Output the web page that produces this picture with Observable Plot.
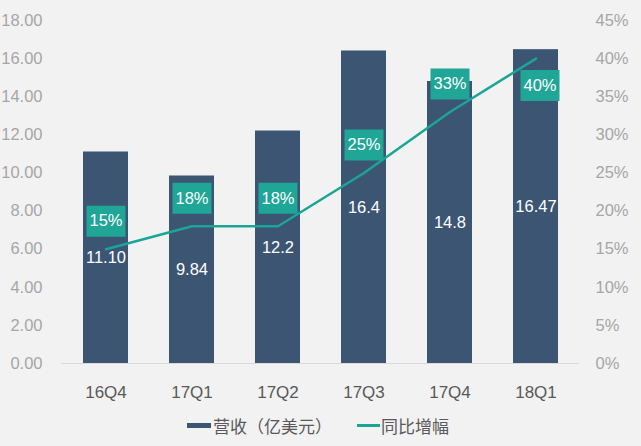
<!DOCTYPE html>
<html>
<head>
<meta charset="utf-8">
<script src="https://cdn.jsdelivr.net/npm/d3@7"></script>
<script src="https://cdn.jsdelivr.net/npm/@observablehq/plot@0.6"></script>
<style>
  html, body { margin: 0; padding: 0; background: #f2f2f2; }
  #chart { width: 641px; height: 446px; overflow: hidden; }
  .legend { display: flex; align-items: center; height: 41px; padding-left: 187px;
    font-family: "Noto Sans CJK SC", sans-serif; font-size: 17px; color: #595959; }
  .legend .sw { display: inline-block; }
  .legend .item { display: flex; align-items: center; }
</style>
</head>
<body>
<div id="chart"></div>
<script>
const quarters = ["16Q4", "17Q1", "17Q2", "17Q3", "17Q4", "18Q1"];
const revenue = [11.10, 9.84, 12.2, 16.4, 14.8, 16.47];
const revenueLabels = ["11.10", "9.84", "12.2", "16.4", "14.8", "16.47"];
const growth = [15, 18, 18, 25, 33, 40];
const leftTicks = [0, 2, 4, 6, 8, 10, 12, 14, 16, 18];
const pctTicks = [0, 5, 10, 15, 20, 25, 30, 35, 40, 45];
const seriesNames = ["营收（亿美元）", "同比增幅"];

const barColor = "#3b5573";
const lineColor = "#1ba596";
const boxColor = "#1fa697";
const ratio = 18 / 45; // percent axis -> left axis units

const data = quarters.map((q, i) => ({
  q, rev: revenue[i], revLabel: revenueLabels[i], g: growth[i], gy: growth[i] * ratio, last: i === quarters.length - 1
}));

const boxSymbol = { draw(ctx) { ctx.rect(-19.5, -15.5, 39, 31); } };

const chart = Plot.plot({
  width: 641,
  height: 405,
  marginLeft: 61,
  marginRight: 62,
  marginTop: 20,
  marginBottom: 42,
  style: { background: "#f2f2f2", fontFamily: "'Liberation Sans', Arial, sans-serif", fontSize: "16px", overflow: "visible" },
  x: { domain: quarters, paddingInner: 0.48, paddingOuter: 0.24, align: 0.5 },
  y: { domain: [0, 18] },
  marks: [
    Plot.barY(data, { x: "q", y: "rev", fill: barColor }),
    Plot.ruleY([0], { stroke: "#d9d9d9", strokeWidth: 1 }),
    Plot.axisY(leftTicks, { anchor: "left", tickSize: 0, tickPadding: 19, tickFormat: d3.format(".2f"), color: "#a6a6a6", fontSize: 16.5, label: null }),
    Plot.axisY(pctTicks.map(p => p * ratio), { anchor: "right", tickSize: 0, tickPadding: 16, tickFormat: d => Math.round(d / ratio) + "%", color: "#a6a6a6", fontSize: 16.5, label: null }),
    Plot.axisX({ tickSize: 0, tickPadding: 22, color: "#595959", fontSize: 17, label: null }),
    Plot.text(data, { x: "q", y: d => d.rev / 2, text: "revLabel", fill: "white", fontSize: 16.5 }),
    Plot.lineY(data, { x: "q", y: "gy", stroke: lineColor, strokeWidth: 2.5 }),
    Plot.dot(data.filter(d => !d.last), { x: "q", y: "gy", symbol: boxSymbol, fill: boxColor, stroke: "none", dy: -28 }),
    Plot.text(data.filter(d => !d.last), { x: "q", y: "gy", text: d => d.g + "%", fill: "white", fontSize: 16.5, dy: -28 }),
    Plot.dot(data.filter(d => d.last), { x: "q", y: "gy", symbol: boxSymbol, fill: boxColor, stroke: "none", dy: 27, dx: 4 }),
    Plot.text(data.filter(d => d.last), { x: "q", y: "gy", text: d => d.g + "%", fill: "white", fontSize: 16.5, dy: 27, dx: 4 })
  ]
});

const root = document.getElementById("chart");
root.appendChild(chart);

const legend = document.createElement("div");
legend.className = "legend";
legend.innerHTML = `
  <div class="item"><span class="sw" style="width:24px;height:5px;background:${barColor}"></span><span style="margin-left:2px">${seriesNames[0]}</span></div>
  <div class="item" style="margin-left:25px"><span class="sw" style="width:23px;height:3px;background:${lineColor}"></span><span style="margin-left:1px">${seriesNames[1]}</span></div>`;
root.appendChild(legend);
</script>
</body>
</html>
